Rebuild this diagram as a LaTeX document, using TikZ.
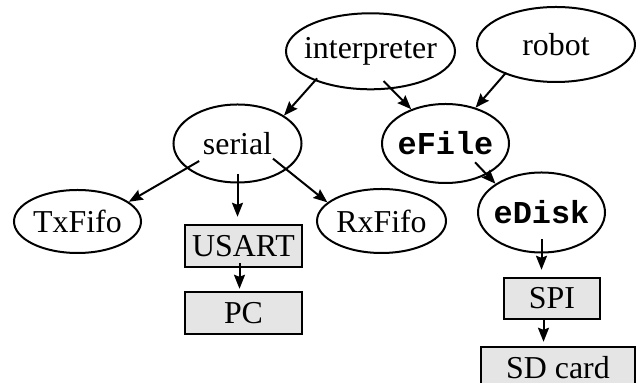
\documentclass[tikz,border=0pt]{standalone}
\usepackage{fontspec}
\setmainfont{Liberation Serif}
\setmonofont{Liberation Mono}
\usetikzlibrary{
	shapes.geometric,
	arrows.meta
}

\begin{document}
\begin{tikzpicture}[
	x=0.5bp, y=-0.5bp,
	font=\fontsize{16}{19}\selectfont,
	oval/.style={ellipse, draw, line width=1bp, inner sep=0pt},
	unit/.style={draw, line width=1.2bp, fill=black!10, inner sep=0pt, minimum height=21bp},
	code/.style={font=\fontsize{16}{19}\selectfont\ttfamily\bfseries},
	link/.style={-{Stealth[length=7bp, width=5.5bp, inset=1bp]}, line width=1bp}
]
	\useasboundingbox (0,0) rectangle (636,383);

	\node[oval, minimum width=84.5bp, minimum height=38bp] (interp) at (370.5,51.3) {\makebox[0pt]{interpreter}};
	\node[oval, minimum width=79bp, minimum height=37.5bp] (robot) at (556,44.5) {\makebox[0pt]{robot}};
	\node[oval, minimum width=64bp, minimum height=39bp] (serial) at (237.5,143.5) {\makebox[0pt]{serial}};
	\node[oval, code, minimum width=63.5bp, minimum height=39.5bp] (efile) at (445.5,143.5) {\makebox[0pt]{eFile}};
	\node[oval, minimum width=63.5bp, minimum height=31.5bp] (txfifo) at (77.5,221.5) {\makebox[0pt]{TxFifo}};
	\node[oval, minimum width=64.5bp, minimum height=32bp] (rxfifo) at (381.5,221) {\makebox[0pt]{RxFifo}};
	\node[oval, code, minimum width=63.5bp, minimum height=40bp] (edisk) at (541.5,212.5) {\makebox[0pt]{eDisk}};

	\node[unit, minimum width=58.5bp] (usart) at (243.5,246) {USART};
	\node[unit, minimum width=58.5bp] (pc) at (243.5,313) {PC};
	\node[unit, minimum width=48bp, minimum height=20.5bp] (spi) at (552,298.5) {SPI};
	\node[unit, minimum width=77bp] (sdcard) at (558,368) {SD card};

	\draw[link, shorten <=-1.7bp] (interp.208) -- (serial.31);
	\draw[link, shorten <=-5.6bp] (interp.299) -- (efile.135);
	\draw[link, shorten <=-1bp] (robot.210) -- (efile.50);
	\draw[link, shorten <=-7.3bp] (serial.206) -- (txfifo.21);
	\draw[link, shorten <=-4.8bp, shorten >=3.5bp] (serial.south) -- (serial.south |- usart.north);
	\draw[link, shorten <=-8.8bp] (serial.332) -- (rxfifo.161);
	\draw[link, shorten <=-2.5bp, shorten >=1bp] ([xshift=-2bp]usart.south) -- ([xshift=-2bp]pc.north);
	\draw[link, shorten <=-8.5bp] (efile.323) -- (edisk.148);
	\draw[link, shorten <=-7bp, shorten >=3.5bp] (edisk.south) -- (edisk.south |- spi.north);
	\draw[link, shorten <=-1bp, shorten >=2bp] ([xshift=-4.25bp]spi.south) -- ([xshift=-4.25bp]spi.south |- sdcard.north);

\end{tikzpicture}
\end{document}
